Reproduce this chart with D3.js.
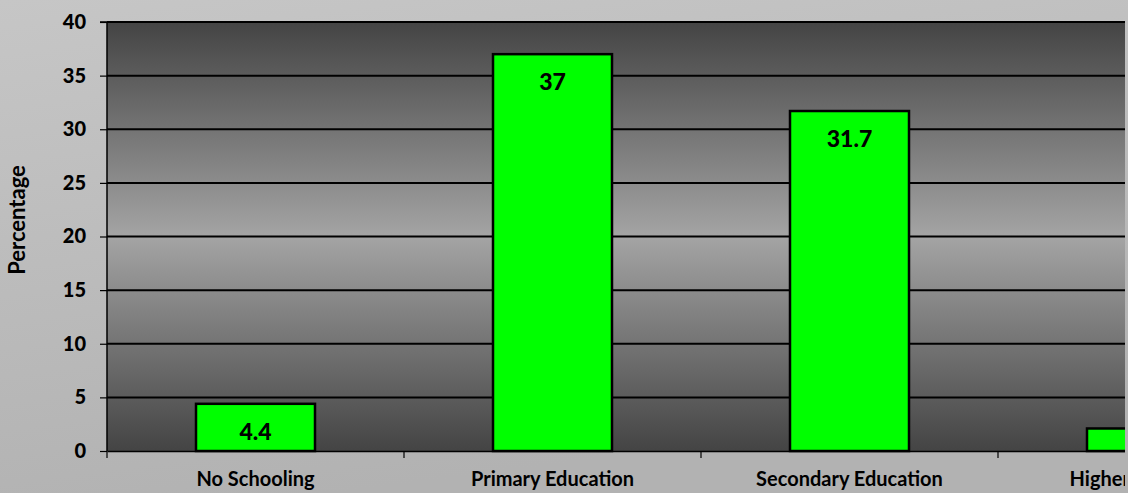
<!DOCTYPE html>
<html><head><meta charset="utf-8">
<script src="https://cdn.jsdelivr.net/npm/d3@7"></script>
<style>html,body{margin:0;padding:0;background:#c0c0c0;overflow:hidden}svg{display:block}</style>
</head><body>
<script>
const categories = ["No Schooling", "Primary Education", "Secondary Education", "Higher Education"];
const values = [4.4, 37, 31.7, 2.1];
const labels = ["4.4", "37", "31.7", ""];
const yTicks = [0, 5, 10, 15, 20, 25, 30, 35, 40];

(function(){
const W = 1128, H = 493;
const FF = "Lato, sans-serif";
const svg = d3.select("body").append("svg").attr("width", W).attr("height", H);
const defs = svg.append("defs");

const bg = defs.append("linearGradient").attr("id","bg").attr("x1",0).attr("y1",0).attr("x2",0.3).attr("y2",1);
bg.append("stop").attr("offset","0%").attr("stop-color","#c6c6c6");
bg.append("stop").attr("offset","100%").attr("stop-color","#b2b2b2");
svg.append("rect").attr("width",W).attr("height",H).attr("fill","url(#bg)");

const pg = defs.append("linearGradient").attr("id","pg").attr("x1",0).attr("y1",0).attr("x2",0).attr("y2",1);
pg.append("stop").attr("offset","0%").attr("stop-color","#444444");
pg.append("stop").attr("offset","50%").attr("stop-color","#a4a4a4");
pg.append("stop").attr("offset","100%").attr("stop-color","#444444");

const clip = defs.append("clipPath").attr("id","clip");
clip.append("rect").attr("x",0).attr("y",0).attr("width",1125).attr("height",H);

const pLeft = 107, pTop = 22, pBottom = 451, band = 297;
const x = d3.scaleBand().domain(categories).range([pLeft, pLeft + band*categories.length]).paddingInner(0).paddingOuter(0);
const y = d3.scaleLinear().domain([0, 40]).range([pBottom, pTop]);

const g = svg.append("g").attr("clip-path","url(#clip)");
g.append("rect").attr("x",pLeft).attr("y",pTop-1).attr("width",W).attr("height",1).attr("fill","#8a8a8a");
g.append("rect").attr("x",pLeft).attr("y",pTop).attr("width",W).attr("height",pBottom-pTop).attr("fill","url(#pg)");

g.selectAll("line.grid").data(yTicks.filter(d=>d>0)).join("line")
  .attr("x1",pLeft).attr("x2",W).attr("y1",d=>y(d)).attr("y2",d=>y(d))
  .attr("stroke","#000").attr("stroke-width",2);

const bw = 119;
g.selectAll("rect.bar").data(values).join("rect")
  .attr("x",(d,i)=>x(categories[i]) + x.bandwidth()/2 - bw/2)
  .attr("y",d=>y(d)).attr("width",bw).attr("height",d=>pBottom-y(d))
  .attr("fill","#00ff00").attr("stroke","#000").attr("stroke-width",2.5);

g.selectAll("text.lbl").data(values).join("text")
  .attr("x",(d,i)=>x(categories[i]) + x.bandwidth()/2)
  .attr("y",d=>y(d)+36)
  .attr("text-anchor","middle").attr("font-family",FF).attr("font-weight",900)
  .attr("font-size",23).attr("fill","#000").text((d,i)=>labels[i]);

const xa = g.append("g").attr("transform",`translate(0,${pBottom})`)
  .call(d3.axisBottom(x).tickSize(0).tickPadding(21));
xa.select(".domain").attr("stroke","#000").attr("stroke-width",1.5);
xa.selectAll("text").attr("font-family",FF).attr("font-weight",700).attr("font-size",20).attr("fill","#000");
g.selectAll("line.xt").data(d3.range(categories.length+1)).join("line")
  .attr("x1",i=>pLeft+i*band).attr("x2",i=>pLeft+i*band).attr("y1",pBottom).attr("y2",pBottom+7)
  .attr("stroke","#000").attr("stroke-width",1.2);

const ya = svg.append("g").attr("transform",`translate(${pLeft},0)`)
  .call(d3.axisLeft(y).tickValues(yTicks).tickSize(7).tickPadding(14));
ya.select(".domain").attr("stroke","#000").attr("stroke-width",1.5).attr("d",`M-7,${pTop}H0V${pBottom}`);
ya.selectAll(".tick line").attr("stroke","#000").attr("stroke-width",1.2);
ya.selectAll("text").attr("font-family",FF).attr("font-weight",900).attr("font-size",20).attr("fill","#000");

svg.append("text").attr("transform","translate(25,220) rotate(-90)")
  .attr("text-anchor","middle").attr("font-family",FF).attr("font-weight",700)
  .attr("font-size",22).attr("fill","#000").text("Percentage");
})();
</script>
</body></html>
